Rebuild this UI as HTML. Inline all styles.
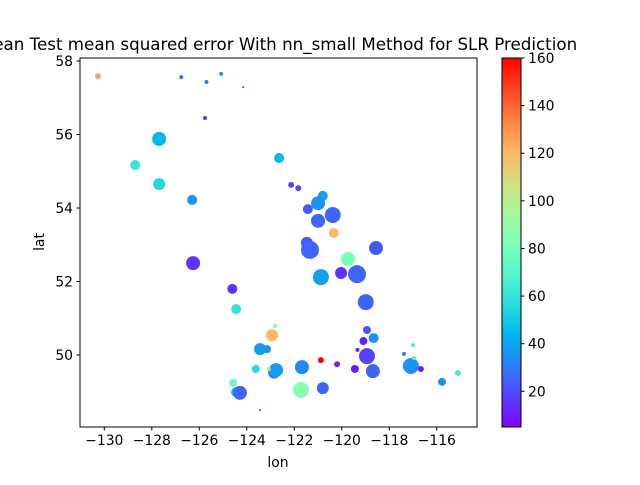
<!DOCTYPE html>
<html><head><meta charset="utf-8"><style>
body{margin:0;background:#fff;overflow:hidden;}
svg text{font-family:"DejaVu Sans","Liberation Sans",sans-serif;fill:#000;}
</style></head><body>
<svg id="chart" width="640" height="480" viewBox="0 0 640 480" xmlns="http://www.w3.org/2000/svg">
<defs>
<clipPath id="plotclip"><rect x="80" y="58" width="397" height="369"/></clipPath>
<linearGradient id="cbgrad" x1="0" y1="1" x2="0" y2="0"></linearGradient>
</defs>
<text x="278" y="50" font-size="16.7" text-anchor="middle">Mean Test mean squared error With nn_small Method for SLR Prediction</text>
<g id="points" clip-path="url(#plotclip)"></g>
<rect x="80" y="58" width="397" height="369" fill="none" stroke="#000" stroke-width="1"/>
<g id="xticks"></g>
<g id="yticks"></g>
<text x="278" y="467" font-size="13.9" text-anchor="middle">lon</text>
<text x="44" y="242" font-size="13.9" text-anchor="middle" transform="rotate(-90 44 242)">lat</text>
<rect x="502" y="58" width="19" height="369" fill="url(#cbgrad)"/>
<rect x="502" y="58" width="19" height="369" fill="none" stroke="#000" stroke-width="1"/>
<g id="cbticks"></g>
</svg>
<script>
const lons=[-130.27,-126.76,-125.7,-125.08,-124.15,-125.76,-127.69,-128.7,-127.69,-122.64,-126.3,-122.13,-121.83,-120.8,-121.43,-121.0,-120.38,-121.0,-120.34,-121.47,-121.34,-118.56,-119.74,-120.88,-120.03,-119.36,-126.26,-124.61,-124.45,-118.99,-122.81,-122.94,-123.15,-123.44,-118.94,-118.66,-119.09,-119.34,-118.94,-117.0,-117.38,-120.88,-120.2,-119.45,-118.69,-117.09,-116.96,-116.67,-115.11,-115.78,-121.68,-123.62,-122.85,-122.77,-123.07,-121.72,-120.8,-124.57,-124.45,-124.29,-123.44];
const lats=[57.59,57.56,57.43,57.65,57.29,56.45,55.88,55.17,54.65,55.36,54.22,54.63,54.54,54.33,53.97,54.13,53.81,53.65,53.32,53.05,52.86,52.91,52.61,52.12,52.23,52.2,52.5,51.8,51.25,51.44,50.79,50.54,50.16,50.16,50.68,50.46,50.38,50.14,49.97,50.27,50.03,49.86,49.75,49.62,49.56,49.7,49.92,49.62,49.51,49.27,49.67,49.62,49.52,49.59,49.62,49.05,49.1,49.24,48.99,48.97,48.5];
const errors=[125,30,30,35,15,15,45,60,55,45,35,20,20,38,22,35,25,25,120,22,25,23,80,38,15,25,15,15,60,25,80,120,35,38,22,35,12,12,18,65,30,160,12,10,25,35,70,10,65,35,33,55,30,38,110,85,25,75,45,25,12];
const sizes=[3,2,2,2,1,2,7,5,6,5,5,3,3,5,5,7,8,7,5,6,9,7,7,8,6,9,7,5,5,8,2,6,4,6,4,5,4,2,8,2,2,3,3,4,7,8,2,3,3,4,7,4,6,7,2,8,6,4,5,7,1];
const xTicks=[-130,-128,-126,-124,-122,-120,-118,-116];
const yTicks=[50,52,54,56,58];
const cbTicks=[20,40,60,80,100,120,140,160];
const VMIN=5,VMAX=160;
const NS='http://www.w3.org/2000/svg';
function xs(v){return 104.3+(v+130)*23.75;}
function ys(v){return 61+(58-v)*36.75;}
function cs(v){return 427-(v-VMIN)/(VMAX-VMIN)*369;}
function rainbow(t){t=Math.max(0,Math.min(1,t));
 let r=Math.min(1,Math.abs(2*t-0.5)),g=Math.sin(Math.PI*t),b=Math.cos(Math.PI*t/2);
 return 'rgb('+Math.round(r*255)+','+Math.round(Math.max(0,g)*255)+','+Math.round(Math.max(0,b)*255)+')';}
function mk(tag,attrs,parent){const e=document.createElementNS(NS,tag);for(const k in attrs)e.setAttribute(k,attrs[k]);parent.appendChild(e);return e;}
const pg=document.getElementById('points');
for(let i=0;i<lons.length;i++){
 const c=mk('circle',{cx:xs(lons[i]),cy:ys(lats[i]),r:sizes[i],fill:rainbow((errors[i]-VMIN)/(VMAX-VMIN))},pg);
 
 
}
const xg=document.getElementById('xticks');
xTicks.forEach(v=>{const x=xs(v);
 const l=mk('line',{x1:x,x2:x,y1:427,y2:430.5,stroke:'#000'},xg);
 
 
 const t=mk('text',{x:x,y:445,'font-size':13.9,'text-anchor':'middle'},xg);t.textContent='\u2212'+Math.abs(v);
 
 });
const yg=document.getElementById('yticks');
yTicks.forEach(v=>{const y=ys(v);
 const l=mk('line',{x1:76.5,x2:80,y1:y,y2:y,stroke:'#000'},yg);
 
 
 const t=mk('text',{x:73,y:y+5,'font-size':13.9,'text-anchor':'end'},yg);t.textContent=v;
 
 });
const grad=document.getElementById('cbgrad');
for(let i=0;i<=20;i++){mk('stop',{offset:(i/20),'stop-color':rainbow(i/20)},grad);}
const cg=document.getElementById('cbticks');
cbTicks.forEach(v=>{const y=cs(v);
 const l=mk('line',{x1:521,x2:524.5,y1:y,y2:y,stroke:'#000'},cg);
 
 
 const t=mk('text',{x:528,y:y+5,'font-size':13.9},cg);t.textContent=v;
 
 });
</script>
</body></html>
